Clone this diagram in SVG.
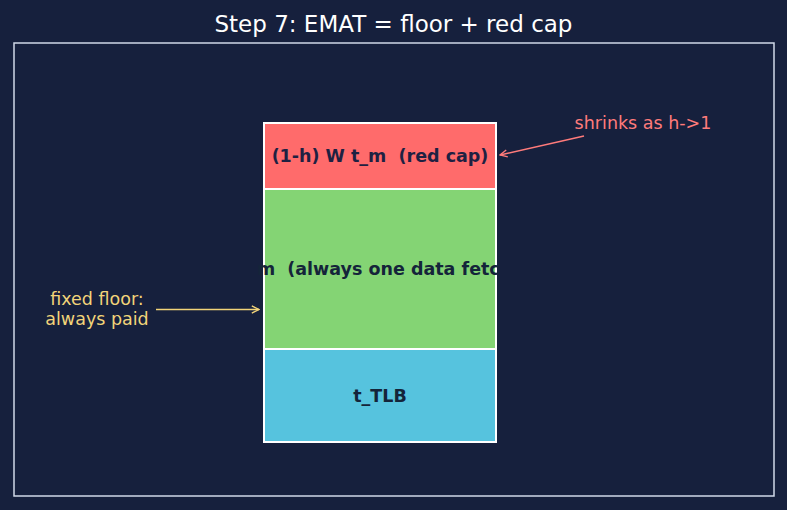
<svg xmlns="http://www.w3.org/2000/svg" width="787" height="510" viewBox="0 0 787 510">
<style>
.seg{stroke:#ffffff;stroke-width:2}
.lbl{font-family:"DejaVu Sans",sans-serif;font-size:17.5px;font-weight:bold;text-anchor:middle;white-space:pre}
.note{font-family:"DejaVu Sans",sans-serif;font-size:17.5px}
</style>
<defs>
<marker id="ar" viewBox="0 0 10 10" refX="9" refY="5" markerWidth="9" markerHeight="9" orient="auto" markerUnits="userSpaceOnUse"><path d="M1,1 L9,5 L1,9" fill="none" stroke="context-stroke" stroke-width="1.5"/></marker>
<clipPath id="cg"><rect x="258" y="189" width="239" height="160"/></clipPath>
</defs>
<rect width="787" height="510" fill="#16203d"/>
<text x="393.5" y="32" font-family="'DejaVu Sans',sans-serif" font-size="23" fill="#ffffff" text-anchor="middle">Step 7: EMAT = floor + red cap</text>
<rect x="14" y="43" width="760" height="453" fill="none" stroke="#d0d8e8" stroke-width="1.5"/>
<g id="red">
<rect class="seg" x="264" y="123" width="232" height="66" fill="#ff6b6b"/>
<text class="lbl" x="380" y="162" fill="#1e2142" xml:space="preserve">(1-h) W t_m  (red cap)</text>
</g>
<g id="green">
<rect class="seg" x="264" y="189" width="232" height="160" fill="#84d474"/>
<text class="lbl" x="380" y="275" fill="#14243a" clip-path="url(#cg)" xml:space="preserve">t_m  (always one data fetch)</text>
</g>
<g id="blue">
<rect class="seg" x="264" y="349" width="232" height="93" fill="#56c3de"/>
<text class="lbl" x="380" y="402" fill="#14243a">t_TLB</text>
</g>
<g id="notes">
<text class="note" x="643" y="129" fill="#ff7b7b" text-anchor="middle">shrinks as h-&gt;1</text>
<text class="note" x="97" y="305" fill="#f2d479" text-anchor="middle">fixed floor:</text>
<text class="note" x="97" y="325" fill="#f2d479" text-anchor="middle">always paid</text>
</g>
<g id="connectors">
<line x1="584" y1="136" x2="500" y2="155" stroke="#ff7b7b" stroke-width="1.5" marker-end="url(#ar)"/>
<line x1="156" y1="309.5" x2="259" y2="309.5" stroke="#f2d479" stroke-width="1.5" marker-end="url(#ar)"/>
</g>
</svg>
